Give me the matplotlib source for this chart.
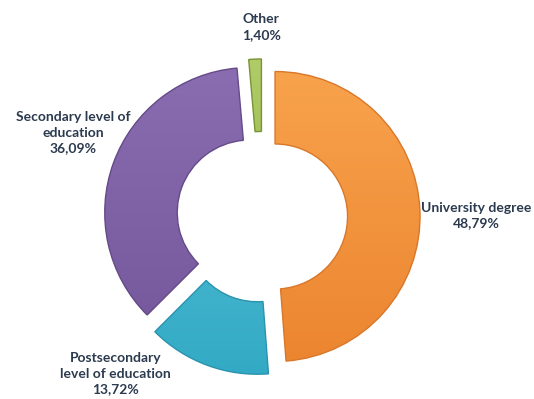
import numpy as np
import matplotlib.pyplot as plt
from matplotlib.colors import LinearSegmentedColormap

# education level shares (%)
labels = ['University degree', 'Postsecondary\nlevel of education',
          'Secondary level of\neducation', 'Other']
shares = [48.79, 13.72, 36.09, 1.40]
top_colors = ['#f8a24c', '#5cc3da', '#8a6db0', '#b0cc68']
bottom_colors = ['#ec8530', '#33aac5', '#74569a', '#8aa840']
rim_colors = ['#d9772a', '#2a93ad', '#654a88', '#789436']
label_xy = [(1.48, 0.01), (-1.01, -1.08), (-1.30, 0.58), (-0.005, 1.31)]

text_color = '#2b3a4f'

fig = plt.figure(figsize=(5.34, 3.99), dpi=100)
ax = fig.add_axes([0, 0, 1, 1])

wedges, _ = ax.pie(shares, radius=1.0, startangle=90, counterclock=False,
                   explode=[0.09] * len(shares),
                   wedgeprops=dict(width=0.5, linewidth=0))

ax.set_aspect('equal')
ax.axis('off')

# vertical gradient fill clipped to each ring segment
grad = np.linspace(1, 0, 256).reshape(-1, 1)
for w, c_top, c_bot, c_rim in zip(wedges, top_colors, bottom_colors, rim_colors):
    cmap = LinearSegmentedColormap.from_list('g', [c_bot, c_top])
    cx, cy = w.center
    img = ax.imshow(grad, cmap=cmap, aspect='auto', interpolation='bilinear',
                    extent=(cx - 1, cx + 1, cy - 1, cy + 1), zorder=2)
    img.set_clip_path(w)
    w.set_facecolor('none')
    w.set_edgecolor(c_rim)
    w.set_linewidth(1.0)
    w.set_zorder(3)

# limits in units of the outer radius (145 px), centre at (262, 217) px
ax.set_xlim(-262 / 145, (534 - 262) / 145)
ax.set_ylim(-(399 - 217) / 145, 217 / 145)

for lab, val, (x, y) in zip(labels, shares, label_xy):
    txt = f"{lab}\n{val:.2f}%".replace('.', ',')
    ax.text(x, y, txt, ha='center', va='center', color=text_color,
            fontsize=10, fontweight='bold', family='Lato', linespacing=1.35)

fig.savefig('out.png', dpi=100)
